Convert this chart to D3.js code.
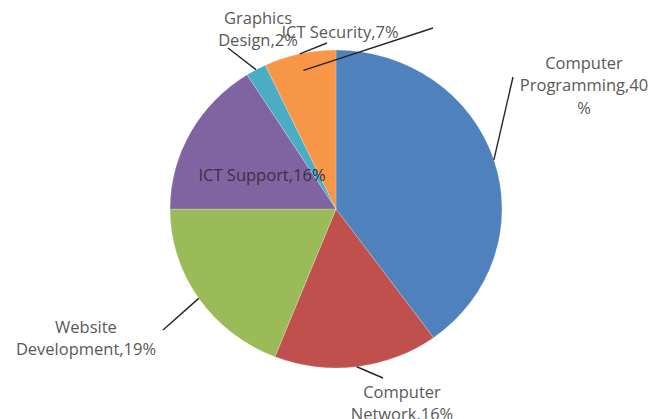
<!DOCTYPE html>
<html>
<head>
<meta charset="utf-8">
<script src="https://cdn.jsdelivr.net/npm/d3@7"></script>
<style>
  html, body { margin: 0; padding: 0; background: #fff; }
  svg { display: block; }
  .lbl { font-family: "Open Sans", "Noto Sans", sans-serif; font-size: 16.5px; fill: #595959; }
</style>
</head>
<body>
<svg id="chart" width="652" height="419"></svg>
<script>
// Course preference shares (percent), clockwise from 12 o'clock
const categories = ["Computer Programming", "Computer Network", "Website Development", "ICT Support", "Graphics Design", "ICT Security"];
const values = [40, 16, 19, 16, 2, 7];
const colors = ["#4F81BD", "#C0504D", "#9BBB59", "#8064A2", "#4BACC6", "#F79646"];

// Label text lines for each slice
const labelLines = [
  ["Computer", "Programming,40", "%"],
  ["Computer", "Network,16%"],
  ["Website", "Development,19%"],
  ["ICT Support,16%"],
  ["Graphics", "Design,2%"],
  ["ICT Security,7%"]
];

const W = 652, H = 419;
const cx = 336, cy = 209, ry = 159, rx = 166;
const sx = rx / ry;

const svg = d3.select("#chart");
const pie = d3.pie().sort(null).value(d => d.value);
const data = categories.map((c, i) => ({ name: c, value: values[i], color: colors[i], lines: labelLines[i] }));
const arcs = pie(data);
const arc = d3.arc().innerRadius(0).outerRadius(ry);

const g = svg.append("g").attr("transform", `translate(${cx},${cy}) scale(${sx},1)`);
g.selectAll("path.slice")
  .data(arcs)
  .join("path")
  .attr("class", "slice")
  .attr("d", arc)
  .attr("fill", d => d.data.color)
  .attr("stroke", "#ffffff")
  .attr("stroke-opacity", 0.35)
  .attr("stroke-width", 0.6);

// point on the (slightly elliptical) rim at the slice's mid angle
function rimPoint(d, k) {
  const a = (d.startAngle + d.endAngle) / 2;
  return [cx + rx * k * Math.sin(a), cy - ry * k * Math.cos(a)];
}

// label layout: centre of the first text line and end of leader line
const layout = {
  "Computer Programming": { x: 584, y: 63, lead: [513, 77] },
  "Computer Network": { x: 402, y: 392, lead: [383, 378] },
  "Website Development": { x: 86, y: 327, lead: [163, 330] },
  "ICT Support": { x: 262, y: 175, lead: null },
  "Graphics Design": { x: 258, y: 18, lead: [228, 48] },
  "ICT Security": { x: 340, y: 32, lead: [327, 43] }
};
const lineH = 22.5;

const leaders = svg.append("g").attr("stroke", "#262626").attr("stroke-width", 1.4).attr("fill", "none");
arcs.forEach(d => {
  const L = layout[d.data.name];
  if (!L.lead) return;
  const p = rimPoint(d, 1);
  leaders.append("line")
    .attr("x1", p[0]).attr("y1", p[1])
    .attr("x2", L.lead[0]).attr("y2", L.lead[1]);
});
// extra callout stroke running out of the ICT Security slice
const sec = arcs[5];
const sp = rimPoint(sec, 0.9);
leaders.append("line")
  .attr("x1", sp[0]).attr("y1", sp[1] + 1)
  .attr("x2", 433).attr("y2", 28);

const labels = svg.append("g");
arcs.forEach(d => {
  const L = layout[d.data.name];
  const t = labels.append("text")
    .attr("class", "lbl")
    .attr("text-anchor", "middle")
    .attr("x", L.x).attr("y", L.y)
    .style("fill", d.data.name === "ICT Support" ? "#3a3144" : null);
  d.data.lines.forEach((ln, i) => {
    t.append("tspan")
      .attr("x", L.x)
      .attr("dy", i === 0 ? "0.35em" : lineH)
      .text(ln);
  });
});
</script>
</body>
</html>
